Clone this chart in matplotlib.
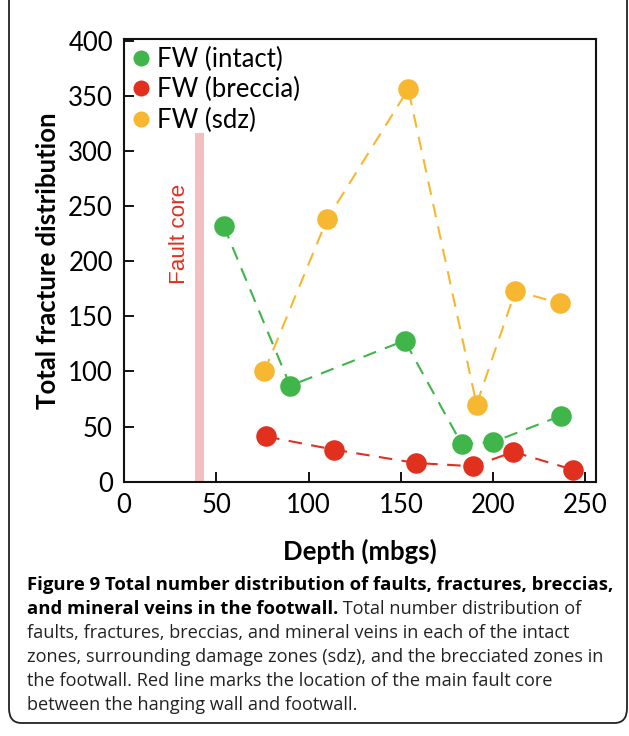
import matplotlib
matplotlib.use("Agg")
import matplotlib.pyplot as plt
from matplotlib.patches import FancyBboxPatch

# --- dados ---
depth_intact = [54, 90, 152, 183, 200, 237]
count_intact = [232, 87, 128, 34, 36, 60]

depth_breccia = [77, 114, 158, 189, 211, 243]
count_breccia = [41, 29, 17, 14, 27, 11]

depth_sdz = [76, 110, 154, 191, 212, 236]
count_sdz = [100, 238, 356, 70, 173, 162]

fault_core_depth = 41
fault_core_top = 316

x_ticks = [0, 50, 100, 150, 200, 250]
y_ticks = [0, 50, 100, 150, 200, 250, 300, 350, 400]

GREEN = '#3FB54A'
RED = '#E2301F'
ORANGE = '#F7B730'
PINK = '#F4BFBF'

caption_bold_1 = 'Figure 9 Total number distribution of faults, fractures, breccias,'
caption_bold_2 = 'and mineral veins in the footwall.'
caption_rest_2 = ' Total number distribution of'
caption_lines = [
    'faults, fractures, breccias, and mineral veins in each of the intact',
    'zones, surrounding damage zones (sdz), and the brecciated zones in',
    'the footwall. Red line marks the location of the main fault core',
    'between the hanging wall and footwall.',
]

W, H = 629, 736
fig = plt.figure(figsize=(W / 100, H / 100), dpi=100)

# moldura arredondada
frame = FancyBboxPatch((9 / W, 13 / H), 618 / W, 740 / H,
                       boxstyle='round,pad=0,rounding_size=0.02',
                       transform=fig.transFigure, fill=False,
                       edgecolor='#222222', linewidth=1.3, clip_on=False)
fig.patches.append(frame)

ax = fig.add_axes([124 / W, 1 - 481.7 / H, 472 / W, 442.7 / H])

plot_font = 'Lato'
FS = 18.5

# faixa do fault core
ax.fill_between([fault_core_depth - 2.4, fault_core_depth + 2.4], 0, fault_core_top,
                color=PINK, linewidth=0, zorder=1)
ax.text(fault_core_depth - 10.7, 225, 'Fault core', rotation=90, color=RED,
        fontsize=16.2, family='Liberation Sans', ha='center', va='center')

series = [
    (depth_intact, count_intact, GREEN, 'FW (intact)'),
    (depth_breccia, count_breccia, RED, 'FW (breccia)'),
    (depth_sdz, count_sdz, ORANGE, 'FW (sdz)'),
]
for xs, ys, c, lab in series:
    ax.plot(xs, ys, color=c, linewidth=1.5, dashes=(6.5, 4.5), zorder=2)
    ax.plot(xs, ys, linestyle='none', marker='o', markersize=14.8,
            markerfacecolor=c, markeredgecolor='none', zorder=3, label=lab)

ax.set_xlim(0, 255.7)
ax.set_ylim(0, 401.5)
ax.set_xticks(x_ticks)
ax.set_yticks(y_ticks)
ax.tick_params(direction='in', length=7, width=1.3, labelsize=FS)
ax.tick_params(axis='y', pad=8)
ax.tick_params(axis='x', pad=8)
for lbl in ax.get_xticklabels() + ax.get_yticklabels():
    lbl.set_family(plot_font)
for sp in ax.spines.values():
    sp.set_linewidth(1.5)
    sp.set_color('#111111')

ax.set_xlabel('Depth (mbgs)', fontsize=FS, fontweight='bold', family=plot_font, labelpad=15)
ax.set_ylabel('Total fracture distribution', fontsize=FS, fontweight='bold',
              family=plot_font, labelpad=6)

leg = ax.legend(loc='upper left', bbox_to_anchor=(-0.018, 1.006), frameon=False,
                prop={'family': plot_font, 'size': FS}, handletextpad=0.0,
                labelspacing=0.22, markerscale=0.78, borderaxespad=0, borderpad=0.4,
                handlelength=1.2)

# legenda da figura
cap_font = 'Open Sans'
x0 = 27 / W
line_y = [585, 609, 633, 657, 681, 705]
fig.text(x0, 1 - line_y[0] / H, caption_bold_1, fontsize=13.3, fontweight='bold',
         family=cap_font, va='center', ha='left')
t2 = fig.text(x0, 1 - line_y[1] / H, caption_bold_2, fontsize=13.3, fontweight='bold',
              family=cap_font, va='center', ha='left')
fig.canvas.draw()
bb = t2.get_window_extent()
fig.text(bb.x1 / W, 1 - line_y[1] / H, caption_rest_2, fontsize=13.1,
         family=cap_font, va='center', ha='left', color='#222222')
for i, line in enumerate(caption_lines):
    fig.text(x0, 1 - line_y[i + 2] / H, line, fontsize=13.1, family=cap_font,
             va='center', ha='left', color='#222222')

fig.savefig('out.png', dpi=100)
